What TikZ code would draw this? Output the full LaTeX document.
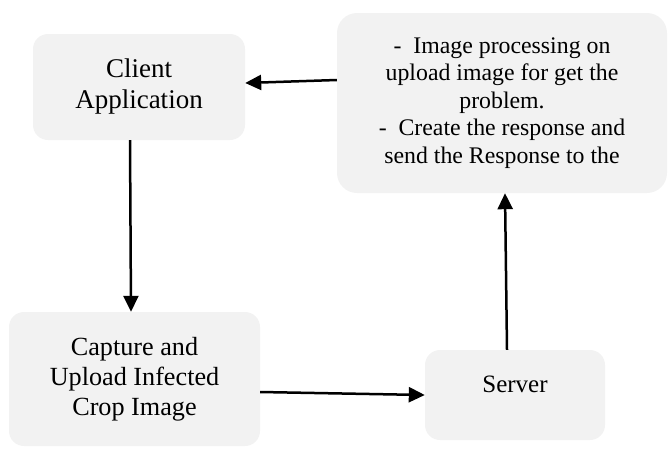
\documentclass[tikz,border=0pt]{standalone}
\usepackage{fontspec}
\setmainfont{Liberation Serif}
\usetikzlibrary{arrows.meta}
\definecolor{boxgray}{HTML}{F2F2F2}
\tikzset{
	box/.style={fill=boxgray, rounded corners=15pt, align=center, inner sep=0pt},
	flow/.style={line width=2.5pt, -{Triangle[length=16pt, width=15pt]}}
}

\begin{document}
\begin{tikzpicture}[x=1pt, y=-1pt]
			%%%%% START %%%%%
			\useasboundingbox (0, 0) rectangle (671, 448);
			
			\node[box, minimum width=212pt, minimum height=106pt, font=\fontsize{27}{31}\selectfont] (client) at (139, 87) {Client\\Application};
			
			\node[box, rounded corners=20pt, minimum width=330pt, minimum height=180pt, font=\fontsize{23.8}{27.5}\selectfont] (resp) at (502, 103) {-~~Image processing on\\upload image for get the\\problem.\\-~~Create the response and\\send the Response to the};
			
			\node[box, minimum width=251pt, minimum height=134pt, font=\fontsize{26.2}{30}\selectfont] (capture) at (134.5, 379) {Capture and\\Upload Infected\\Crop Image};
			
			\node[box, minimum width=180pt, minimum height=90pt, text depth=22pt, font=\fontsize{25}{31}\selectfont] (server) at (515, 395) {Server};
			
			\draw[flow] ([yshift=23pt]resp.west) -- ([yshift=4pt]client.east);
			\draw[flow] ([xshift=-9pt]client.south) -- ([xshift=-3.5pt]capture.north);
			\draw[flow] ([yshift=-13pt]capture.east) -- (server.west);
			\draw[flow] ([xshift=-8pt]server.north) -- ([xshift=3pt]resp.south);
			
			%%%%% END %%%%%
\end{tikzpicture}
\end{document}
